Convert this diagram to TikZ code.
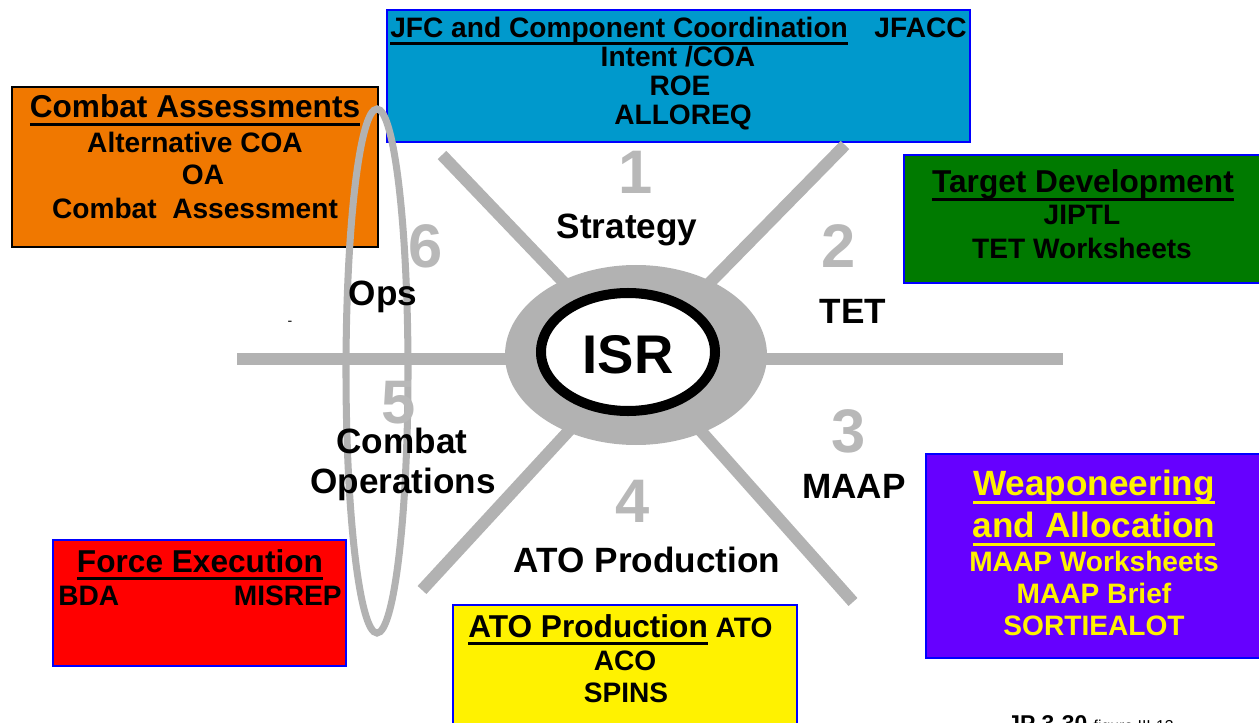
\documentclass[tikz,border=0pt]{standalone}
\usepackage{fontspec}
\setmainfont{Liberation Sans}
\usetikzlibrary{fit}

\definecolor{spokegray}{RGB}{178,178,178}
\definecolor{numgray}{RGB}{184,184,184}
\definecolor{boxblue}{RGB}{0,0,255}
\definecolor{jfcblue}{RGB}{0,153,204}
\definecolor{assessorange}{RGB}{240,120,0}
\definecolor{targetgreen}{RGB}{0,122,0}
\definecolor{weaponpurple}{RGB}{102,0,255}

\newcommand{\hdl}[1]{\sbox0{#1}\rlap{\rule[-0.25em]{\wd0}{0.09em}}\usebox0}

\tikzset{
    infobox/.style={draw=boxblue,line width=1.1pt,inner sep=0pt},
    spoke/.style={draw=spokegray,line width=6.8pt},
    stepnum/.style={font=\fontsize{35}{35}\selectfont\bfseries,text=numgray,anchor=base,inner sep=0pt},
    phase/.style={font=\fontsize{20}{24}\selectfont\bfseries,anchor=base,inner sep=0pt},
    boxhead/.style={font=\fontsize{18}{21}\selectfont\bfseries,anchor=base,inner sep=0pt},
    boxline/.style={font=\fontsize{16}{19}\selectfont\bfseries,anchor=base,inner sep=0pt}
}

\begin{document}
\begin{tikzpicture}[
        x=0.02cm,
        y=-0.02cm
    ]
    \useasboundingbox (0,0) rectangle (1259,723);

    \node[infobox,fill=jfcblue,fit={(387,10) (970,142)}] (jfcbox) {};
    \node[infobox,draw=black,fill=assessorange,fit={(12,87) (378,247)}] (assessbox) {};
    \node[infobox,fill=targetgreen,fit={(904,155) (1275,283)}] (targetbox) {};
    \node[infobox,fill=weaponpurple,fit={(926,454) (1275,658)}] (weaponbox) {};
    \node[infobox,fill=red,fit={(53,540) (346,666)}] (forcebox) {};
    \node[infobox,fill=yellow,fit={(453,605) (797,745)}] (atobox) {};

    \coordinate (hub) at (636,358);
    \coordinate (endW) at (237,359);
    \coordinate (endE) at (1063,359);
    \coordinate (endNW) at (442,155);
    \coordinate (endNE) at (845,145);
    \coordinate (endSW) at (422,590);
    \coordinate (endSE) at (853,602);
    \draw[spoke] (endW) -- (endE);
    \draw[spoke] (endNW) -- (hub) -- (endSE);
    \draw[spoke] (endNE) -- (hub) -- (endSW);
    \fill[spokegray] (636,355) ellipse [x radius=131, y radius=90];
    \draw[line width=5.7pt,fill=white] (628,352) ellipse [x radius=87, y radius=59];
    \node[font=\fontsize{31}{31}\selectfont\bfseries,anchor=base,inner sep=0pt] (isr) at (628,373) {ISR};

    \draw[spokegray,line width=4pt] (377,371) ellipse [x radius=31, y radius=262];

    \node[stepnum] (n1) at (636,194) {1};
    \node[stepnum] (n2) at (839,268) {2};
    \node[stepnum] (n3) at (849,452) {3};
    \node[stepnum] (n4) at (633,522) {4};
    \node[stepnum] (n5) at (399,423) {5};
    \node[stepnum] (n6) at (426,268) {6};

    \node[phase] (strategy) at (627,238) {Strategy};
    \node[phase] (tet) at (853,323) {TET};
    \node[phase] (maap) at (854,498) {MAAP};
    \node[phase] (atoprod) at (647,572) {ATO Production};
    \node[phase] (combat) at (402,453) {Combat};
    \node[phase] (operations) at (403,493) {Operations};
    \node[phase] (ops) at (383,305) {Ops};
    \node[font=\fontsize{8}{8}\selectfont,inner sep=0pt] (dash) at (290,323) {-};

    \node[boxline,anchor=base west] (jfchead) at (390,38) {\hdl{JFC and Component Coordination}};
    \node[boxline,anchor=base east] (jfacc) at (967,38) {JFACC};
    \node[boxline] (intent) at (678,67) {Intent /COA};
    \node[boxline] (roe) at (680,96) {ROE};
    \node[boxline] (alloreq) at (683,125) {ALLOREQ};

    \node[boxhead] (assesshead) at (195,118) {\hdl{Combat Assessments}};
    \node[boxline] (altcoa) at (195,153) {Alternative COA};
    \node[boxline] (oa) at (203,185) {OA};
    \node[boxline] (combatassess) at (195,218) {Combat\ \ Assessment};

    \node[boxhead] (targethead) at (1083,193) {\hdl{Target Development}};
    \node[boxline] (jiptl) at (1082,225) {JIPTL};
    \node[boxline] (tetws) at (1082,258) {TET Worksheets};

    \begin{scope}[
        every node/.append style={text=yellow}
    ]
        \node[phase] (weaponhead) at (1094,495) {\hdl{Weaponeering}};
        \node[phase] (allochead) at (1094,537) {\hdl{and Allocation}};
        \node[boxline] (maapws) at (1094,571) {MAAP Worksheets};
        \node[boxline] (maapbrief) at (1094,603) {MAAP Brief};
        \node[boxline] (sortie) at (1094,635) {SORTIEALOT};
    \end{scope}

    \node[boxhead] (forcehead) at (200,572) {\hdl{Force Execution}};
    \node[boxline,anchor=base west] (bda) at (58,605) {BDA};
    \node[boxline,anchor=base east] (misrep) at (342,605) {MISREP};

    \node[boxhead,anchor=base west] (atohead) at (468,637) {\hdl{ATO Production}\fontsize{16}{19}\selectfont{} ATO};
    \node[boxline] (aco) at (625,670) {ACO};
    \node[boxline] (spins) at (626,702) {SPINS};

    \node[anchor=north west,inner sep=0pt] (source) at (1007,715) {\fontsize{13}{13}\selectfont\bfseries JP 3-30 \fontsize{9}{9}\selectfont\mdseries figure III-13};
\end{tikzpicture}
\end{document}
